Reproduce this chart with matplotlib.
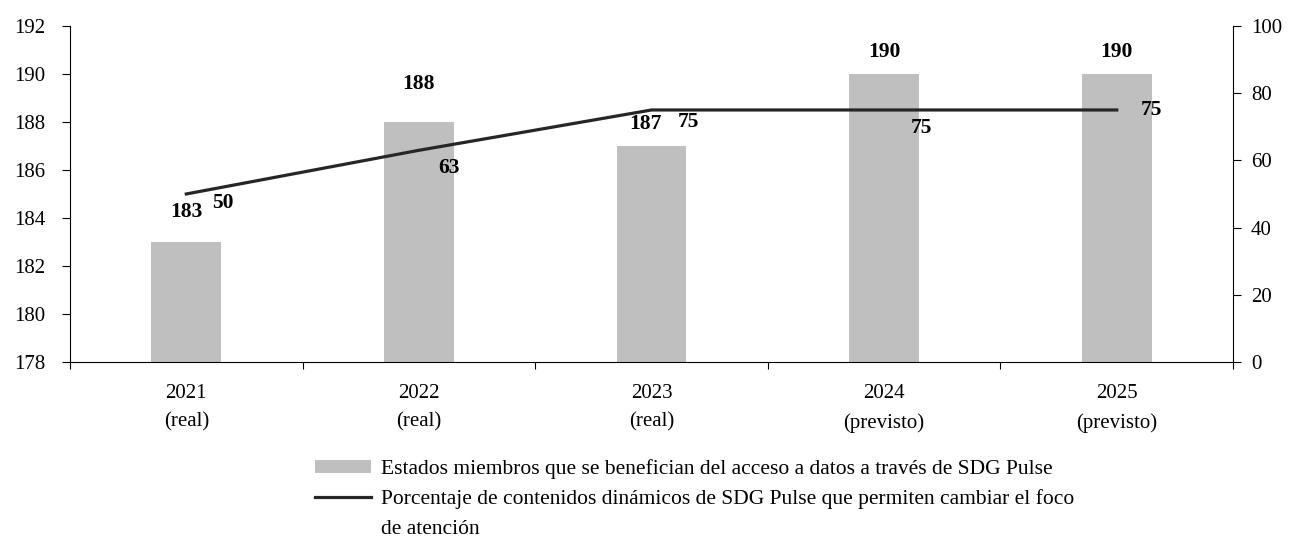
import matplotlib
matplotlib.use("Agg")
import matplotlib.pyplot as plt
from matplotlib.patches import Patch
from matplotlib.lines import Line2D

plt.rcParams['font.family'] = ['Liberation Serif', 'DejaVu Serif']
plt.rcParams['font.size'] = 15

categories = ["2021\n(real)", "2022\n(real)", "2023\n(real)", "2024\n(previsto)", "2025\n(previsto)"]
estados = [183, 188, 187, 190, 190]
porcentaje = [50, 63, 75, 75, 75]
left_ticks = [178, 180, 182, 184, 186, 188, 190, 192]
right_ticks = [0, 20, 40, 60, 80, 100]
bar_label = "Estados miembros que se benefician del acceso a datos a través de SDG Pulse"
line_label_lines = ["Porcentaje de contenidos dinámicos de SDG Pulse que permiten cambiar el foco",
                    "de atención"]

bar_color = "#bfbfbf"
line_color = "#262626"

fig = plt.figure(figsize=(12.89, 5.41), dpi=100)
ax = fig.add_axes([0.0543, 0.3309, 0.9023, 0.6211])
x = list(range(len(categories)))
ax.bar(x, estados, width=0.3, color=bar_color, zorder=1)
ax.set_ylim(178, 192)
ax.set_xlim(-0.5, len(categories) - 0.5)
ax.set_yticks(left_ticks)
ax.set_xticks(x)
ax.set_xticklabels(categories, linespacing=1.65)
ax.set_xticks([i - 0.5 for i in range(len(categories) + 1)], minor=True)
ax.tick_params(axis='x', which='major', length=0, pad=16)
ax.tick_params(axis='x', which='minor', length=5, direction='out', width=0.8)
ax.tick_params(axis='y', length=6, direction='out', width=0.8, pad=12)
for s in ['top', 'right']:
    ax.spines[s].set_visible(False)
for s in ['left', 'bottom']:
    ax.spines[s].set_linewidth(0.8)
ax.tick_params(axis='both', labelsize=15)

ax2 = ax.twinx()
ax2.plot(x, porcentaje, color=line_color, linewidth=2.3, zorder=3)
ax2.set_ylim(0, 100)
ax2.set_yticks(right_ticks)
ax2.tick_params(axis='y', length=6, direction='out', width=0.8, pad=7, labelsize=15)
for s in ['top', 'left', 'bottom']:
    ax2.spines[s].set_visible(False)
ax2.spines['right'].set_linewidth(0.8)

bar_offsets = [(0, 21.6), (0, 27.5), (-4.3, 16), (0, 15.8), (0, 15.8)]
for xi, v, off in zip(x, estados, bar_offsets):
    ax.annotate(str(v), (xi, v), xytext=off, textcoords='offset points',
                ha='center', va='center', fontweight='bold', fontsize=15.5)

line_offsets = [(26, -6.5), (21.6, -12.7), (26.6, -8.6), (27, -13), (25, 0)]
for xi, v, off in zip(x, porcentaje, line_offsets):
    ax2.annotate(str(v), (xi, v), xytext=off, textcoords='offset points',
                 ha='center', va='center', fontweight='bold', fontsize=15.5)

handles = [Patch(facecolor=bar_color, edgecolor='none'),
           Line2D([0], [0], color=line_color, linewidth=2.3),
           Line2D([0], [0], color='none', linewidth=0)]
leg = fig.legend(handles, [bar_label] + line_label_lines, loc='upper left',
                 bbox_to_anchor=(0.2444, 0.151), frameon=False, fontsize=15.5,
                 handlelength=2.6, handleheight=0.6, handletextpad=0.45,
                 labelspacing=0.48, borderaxespad=0, borderpad=0)

fig.savefig("out.png", dpi=100)
